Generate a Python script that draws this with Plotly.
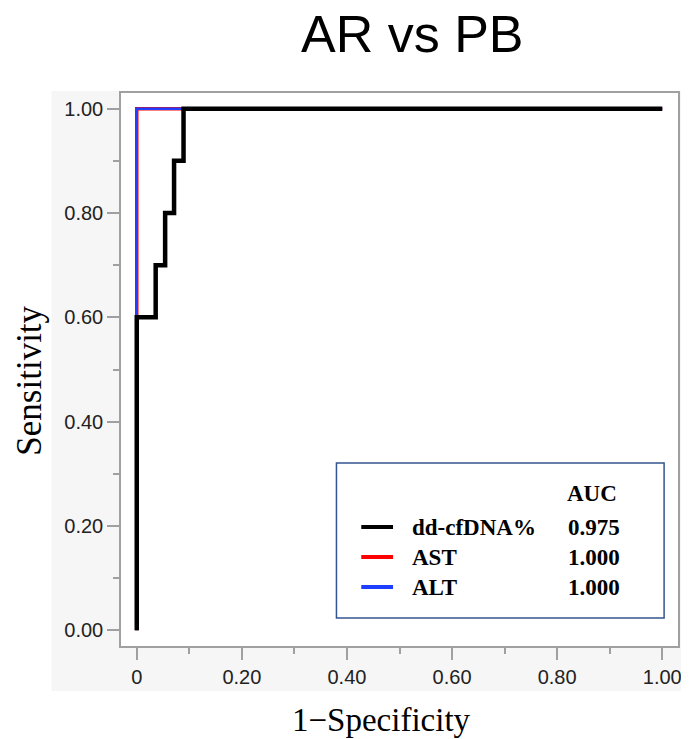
import plotly.graph_objects as go

# ---- data ----
dd_fpr = [0.0, 0.0, 0.036, 0.054, 0.071, 0.089, 1.0]
dd_tpr = [0.0, 0.6, 0.7, 0.8, 0.9, 1.0, 1.0]
ast_fpr = [0.0, 0.0, 1.0]
ast_tpr = [0.0, 1.0, 1.0]
alt_fpr = [0.0, 0.0, 1.0]
alt_tpr = [0.0, 1.0, 1.0]

series_names = ["dd-cfDNA%", "AST", "ALT"]
series_auc = ["0.975", "1.000", "1.000"]
series_colors = ["#000000", "#ff0000", "#1f3fff"]

tick_vals = [0, 0.2, 0.4, 0.6, 0.8, 1.0]
x_tick_text = ["0", "0.20", "0.40", "0.60", "0.80", "1.00"]
y_tick_text = ["0.00", "0.20", "0.40", "0.60", "0.80", "1.00"]

OFF = 8  # page body margin
W, H = 689 - OFF, 739 - OFF
L, R, T, B = 121, 682, 93, 646  # plot frame in window pixels


def px_x(px):
    return (px - L) / (R - L)


def px_y(py):
    return (B - py) / (B - T)


fig = go.Figure()
fig.add_trace(go.Scatter(x=ast_fpr, y=ast_tpr, mode="lines", line=dict(color=series_colors[1], width=3.5),
                         name="AST", line_shape="hv"))
fig.add_trace(go.Scatter(x=alt_fpr, y=alt_tpr, mode="lines", line=dict(color=series_colors[2], width=2.5),
                         name="ALT", line_shape="hv"))
fig.add_trace(go.Scatter(x=dd_fpr, y=dd_tpr, mode="lines", line=dict(color=series_colors[0], width=4.5),
                         name="dd-cfDNA%", line_shape="hv"))

shapes = [
    # gray panel
    dict(type="rect", xref="paper", yref="paper", x0=px_x(51), x1=px_x(689), y0=px_y(691), y1=px_y(91),
         fillcolor="#f6f6f6", line=dict(width=0), layer="below"),
    # white plot area
    dict(type="rect", xref="paper", yref="paper", x0=0, x1=1, y0=0, y1=1,
         fillcolor="#ffffff", line=dict(width=0), layer="below"),
    # legend box
    dict(type="rect", xref="paper", yref="paper", x0=px_x(338), x1=px_x(668), y0=px_y(618), y1=px_y(463),
         fillcolor="#ffffff", line=dict(color="#34558f", width=1.5), layer="above"),
]

annotations = [
    dict(text="AR vs PB", xref="paper", yref="paper", x=px_x(415), y=px_y(34), showarrow=False,
         xanchor="center", yanchor="middle", font=dict(family="Liberation Sans", size=52, color="#000")),
    dict(text="Sensitivity", xref="paper", yref="paper", x=px_x(29), y=px_y(381), showarrow=False,
         textangle=-90, xanchor="center", yanchor="middle",
         font=dict(family="Liberation Serif", size=35, color="#000")),
    dict(text="1\u2212Specificity", xref="paper", yref="paper", x=px_x(383), y=px_y(720), showarrow=False,
         xanchor="center", yanchor="middle", font=dict(family="Liberation Serif", size=33, color="#000")),
    dict(text="<b>AUC</b>", xref="paper", yref="paper", x=px_x(568), y=px_y(493), showarrow=False,
         xanchor="left", yanchor="middle", font=dict(family="Liberation Serif", size=23, color="#000")),
]

row_y = [527, 557, 587]
for name, auc, col, ry in zip(series_names, series_auc, series_colors, row_y):
    shapes.append(dict(type="line", xref="paper", yref="paper", x0=px_x(363), x1=px_x(395),
                       y0=px_y(ry), y1=px_y(ry), line=dict(color=col, width=4), layer="above"))
    annotations.append(dict(text="<b>%s</b>" % name, xref="paper", yref="paper", x=px_x(412), y=px_y(ry),
                            showarrow=False, xanchor="left", yanchor="middle",
                            font=dict(family="Liberation Serif", size=23, color="#000")))
    annotations.append(dict(text="<b>%s</b>" % auc, xref="paper", yref="paper", x=px_x(569), y=px_y(ry),
                            showarrow=False, xanchor="left", yanchor="middle",
                            font=dict(family="Liberation Serif", size=23, color="#000")))

axis_common = dict(
    range=[-0.03, 1.03], showgrid=False, zeroline=False, showline=True, linecolor="#a0a0a0", linewidth=1.5,
    mirror=True, ticks="outside", ticklen=12, tickwidth=1.5, tickcolor="#a0a0a0",
    tickvals=tick_vals, tickfont=dict(family="Liberation Sans", size=20, color="#222"),
    minor=dict(ticks="outside", ticklen=6, tickwidth=1.5, tickcolor="#a0a0a0", tick0=0, dtick=0.1),
)

fig.update_layout(
    width=W, height=H,
    margin=dict(l=L - OFF, r=W + OFF - R, t=T - OFF, b=H + OFF - B),
    paper_bgcolor="#ffffff", plot_bgcolor="#ffffff",
    showlegend=False,
    shapes=shapes, annotations=annotations,
    xaxis=dict(axis_common, ticktext=x_tick_text),
    yaxis=dict(axis_common, ticktext=y_tick_text),
)

fig.write_html("out.html")
